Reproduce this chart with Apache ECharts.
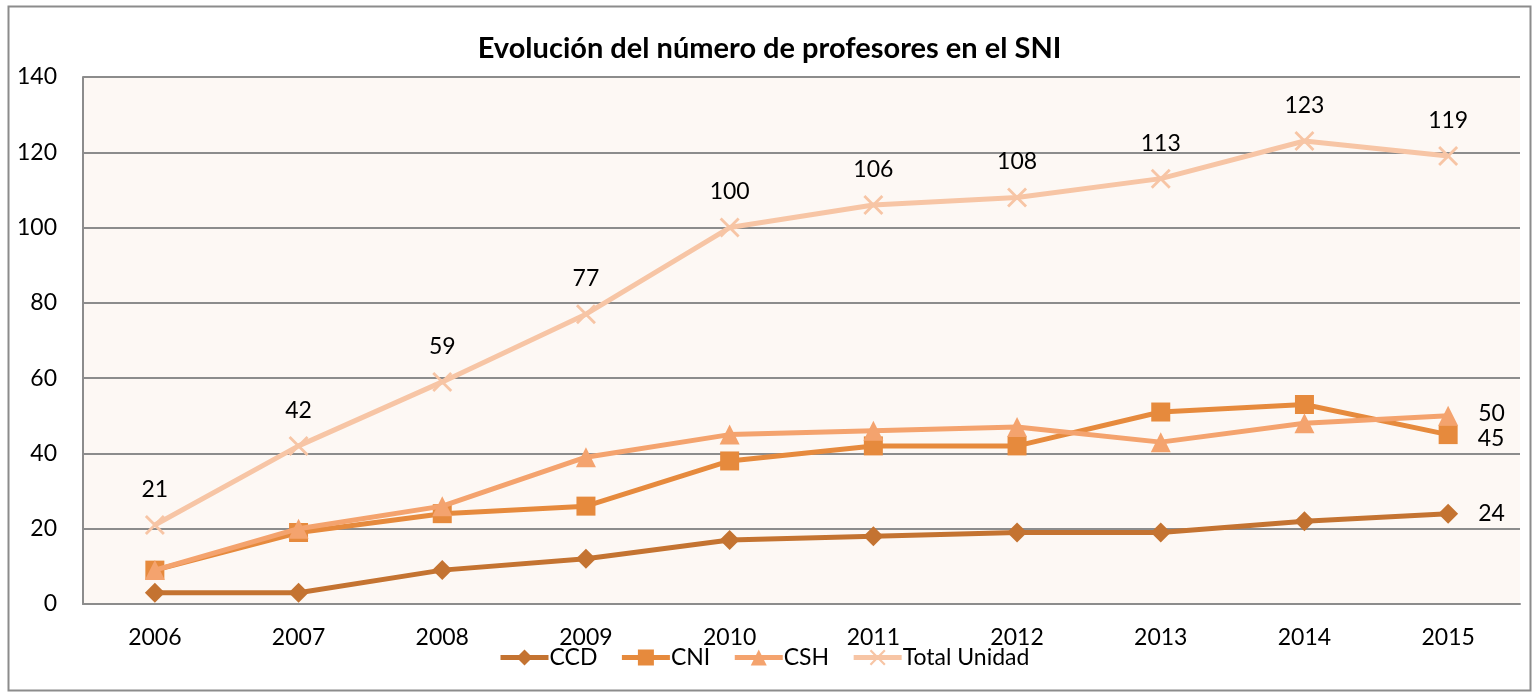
<!DOCTYPE html>
<html lang="es">
<head>
    <meta charset="UTF-8">
    <title>Evolución del número de profesores en el SNI</title>
    <script src="https://cdn.jsdelivr.net/npm/echarts@6/dist/echarts.min.js"></script>
    <style>
        html, body { margin: 0; padding: 0; background: #fff; }
    </style>
</head>
<body>
<div id="main" style="width: 1539px; height: 694px;"></div>
<script type="text/javascript">
    // datos
    var years = ['2006', '2007', '2008', '2009', '2010', '2011', '2012', '2013', '2014', '2015'];
    var ccd = [3, 3, 9, 12, 17, 18, 19, 19, 22, 24];
    var cni = [9, 19, 24, 26, 38, 42, 42, 51, 53, 45];
    var csh = [9, 20, 26, 39, 45, 46, 47, 43, 48, 50];
    var totalUnidad = [21, 42, 59, 77, 100, 106, 108, 113, 123, 119];

    var fontName = 'Lato';
    var fs = 23;
    // simbolo en forma de aspa para el total
    var crossSymbol = 'path://M0,1 L1,0 L5,4 L9,0 L10,1 L6,5 L10,9 L9,10 L5,6 L1,10 L0,9 L4,5 Z';

    // etiqueta solo en el ultimo punto
    function lastLabel(arr) {
        return arr.map(function (v, i) {
            if (i === arr.length - 1) {
                return {value: v, label: {show: true, position: 'right', distance: 20}};
            }
            return v;
        });
    }

    var myChart = echarts.init(document.getElementById('main'));
    var option = {
        animation: false,
        textStyle: {fontFamily: fontName},
        title: {
            text: 'Evolución del número de profesores en el SNI',
            left: 'center',
            top: 29,
            textStyle: {fontSize: 29, fontWeight: 'bold', color: '#000', fontFamily: fontName}
        },
        graphic: [{
            type: 'rect',
            shape: {x: 8.5, y: 6.5, width: 1522, height: 684},
            style: {fill: 'none', stroke: '#8c8c8c', lineWidth: 2},
            silent: true,
            z: -10
        }],
        legend: {
            bottom: 20,
            left: 493,
            itemWidth: 48,
            itemHeight: 20,
            itemGap: 22,
            lineStyle: {width: 5},
            textStyle: {fontSize: fs, color: '#000', fontFamily: fontName, padding: [0, 0, 0, -4]},
            data: ['CCD', 'CNI', 'CSH', 'Total Unidad']
        },
        grid: {
            left: 83,
            right: 19,
            top: 77,
            bottom: 90,
            show: true,
            backgroundColor: '#fdf8f4',
            borderWidth: 0
        },
        xAxis: {
            type: 'category',
            data: years,
            boundaryGap: true,
            axisLine: {lineStyle: {color: '#8c8c8c', width: 2}},
            axisTick: {show: false},
            axisLabel: {fontSize: fs, color: '#000', margin: 22, fontFamily: fontName}
        },
        yAxis: {
            type: 'value',
            min: 0,
            max: 140,
            interval: 20,
            axisLine: {show: true, lineStyle: {color: '#8c8c8c', width: 2}},
            axisTick: {show: false},
            axisLabel: {fontSize: fs, color: '#000', margin: 26, fontFamily: fontName},
            splitLine: {lineStyle: {color: '#8c8c8c', width: 2}}
        },
        series: [
            {
                name: 'CCD',
                type: 'line',
                data: lastLabel(ccd),
                symbol: 'diamond',
                symbolSize: 20,
                itemStyle: {color: '#c47331'},
                lineStyle: {width: 5, color: '#c47331'},
                label: {fontSize: fs, color: '#000', fontFamily: fontName},
                z: 4
            },
            {
                name: 'CNI',
                type: 'line',
                data: lastLabel(cni),
                symbol: 'rect',
                symbolSize: 19,
                itemStyle: {color: '#e68a3d'},
                lineStyle: {width: 5, color: '#e68a3d'},
                label: {fontSize: fs, color: '#000', fontFamily: fontName, offset: [0, 4]},
                z: 3
            },
            {
                name: 'CSH',
                type: 'line',
                data: lastLabel(csh),
                symbol: 'triangle',
                symbolSize: 20,
                itemStyle: {color: '#f4a36e'},
                lineStyle: {width: 5, color: '#f4a36e'},
                label: {fontSize: fs, color: '#000', fontFamily: fontName, offset: [0, -2]},
                z: 5
            },
            {
                name: 'Total Unidad',
                type: 'line',
                data: totalUnidad,
                symbol: crossSymbol,
                symbolSize: 20,
                itemStyle: {color: '#f7c5a5'},
                lineStyle: {width: 5, color: '#f7c5a5'},
                label: {show: true, position: 'top', distance: 14, fontSize: fs, color: '#000', fontFamily: fontName},
                z: 2
            }
        ]
    };
    myChart.setOption(option);
</script>
</body>
</html>
